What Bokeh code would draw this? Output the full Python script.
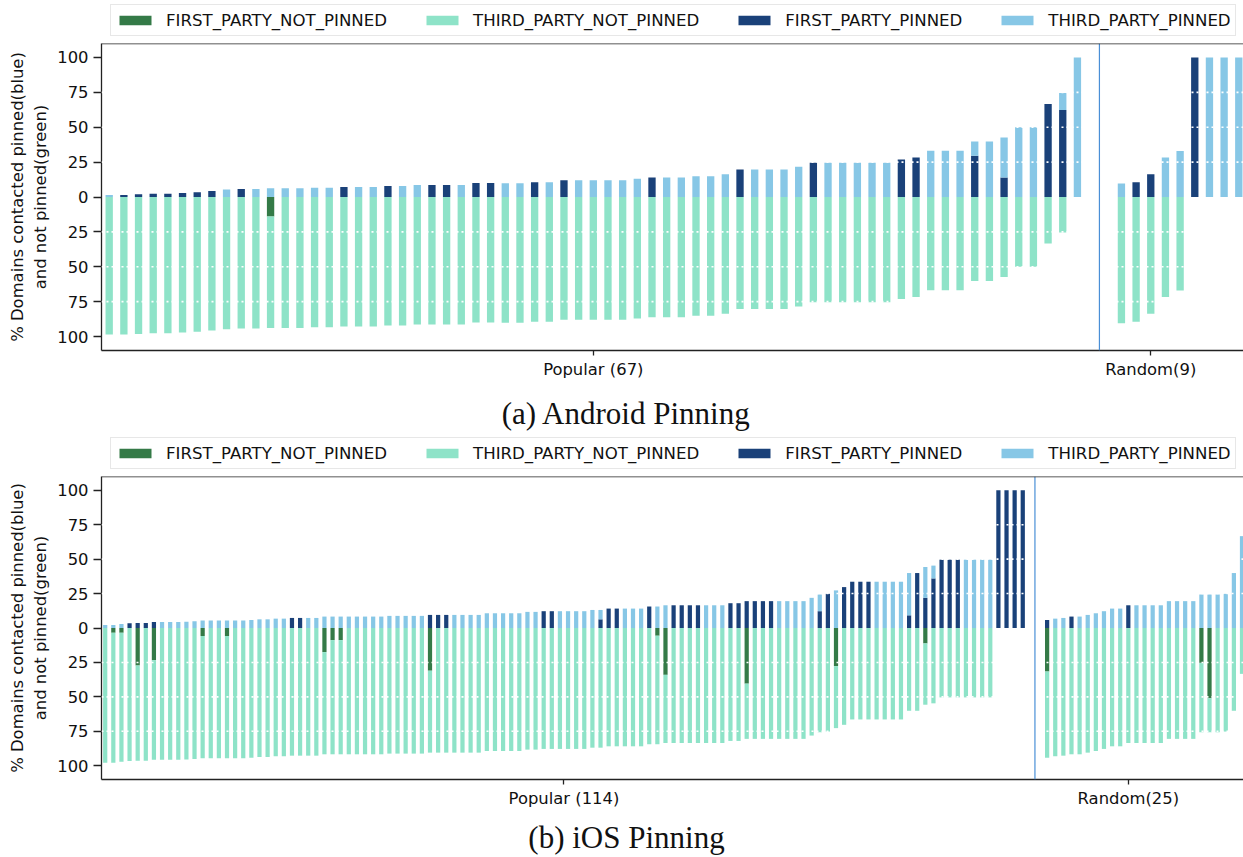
from bokeh.plotting import figure
from bokeh.models import (ColumnDataSource, Range1d, FixedTicker, Span, Legend,
                          LegendItem, CustomJSTickFormatter)
from bokeh.core.properties import value
from bokeh.layouts import column
from bokeh.embed import file_html
from bokeh.resources import INLINE

categories = ["FIRST_PARTY_NOT_PINNED", "THIRD_PARTY_NOT_PINNED",
              "FIRST_PARTY_PINNED", "THIRD_PARTY_PINNED"]
colors = ["#347a47", "#8ee3c8", "#1a4179", "#87c7e6"]

# ---------------- Android (values in % of contacted domains) ----------------
android_pop_fp_pinned = [
    0, 1.4, 1.9, 2.4, 2.4, 2.9, 3.4, 4.3, 0, 5.8,
    0, 0, 0, 0, 0, 0, 7.2, 0, 0, 7.9,
    0, 0, 8.6, 8.6, 0, 10.1, 10.1, 0, 0, 10.6,
    0, 12.0, 0, 0, 0, 0, 0, 13.9, 0, 0,
    0, 0, 0, 19.7, 0, 0, 0, 0, 24.5, 0,
    0, 0, 0, 0, 26.9, 28.3, 0, 0, 0, 29.5,
    0, 13.9, 0, 0, 66.7, 62.4, 0]
android_pop_tp_pinned = [
    1.4, 0, 0, 0, 0, 0, 0, 0, 5.3, 0,
    5.8, 6.2, 6.2, 6.2, 6.7, 6.7, 0, 7.2, 7.2, 0,
    7.9, 8.6, 0, 0, 8.6, 0, 0, 9.8, 9.8, 0,
    10.6, 0, 12.0, 12.0, 12.0, 12.0, 13.0, 0, 13.9, 13.9,
    14.9, 14.9, 16.3, 0, 19.7, 19.7, 19.7, 21.6, 0, 24.5,
    24.5, 24.5, 24.5, 24.5, 0, 0, 33.1, 33.1, 33.1, 10.3,
    39.8, 28.8, 50.0, 50.0, 0, 12.2, 100]
android_pop_fp_not = [
    0, 0, 0, 0, 0, 0, 0, 0, 0, 0,
    0, 14.0, 0, 0, 0, 0, 0, 0, 0, 0,
    0, 0, 0, 0, 0, 0, 0, 0, 0, 0,
    0, 0, 0, 0, 0, 0, 0, 0, 0, 0,
    0, 0, 0, 0, 0, 0, 0, 0, 0, 0,
    0, 0, 0, 0, 0, 0, 0, 0, 0, 0,
    0, 0, 0, 0, 0, 0, 0]
android_pop_tp_not = [
    98.6, 98.6, 98.1, 97.6, 97.6, 97.1, 96.6, 95.7, 94.7, 94.2,
    94.2, 79.8, 93.8, 93.8, 93.3, 93.3, 92.8, 92.8, 92.8, 92.1,
    92.1, 91.4, 91.4, 91.4, 91.4, 89.9, 89.9, 90.2, 90.2, 89.4,
    89.4, 88.0, 88.0, 88.0, 88.0, 88.0, 87.0, 86.1, 86.1, 86.1,
    85.1, 85.1, 83.7, 80.3, 80.3, 80.3, 80.3, 78.4, 75.5, 75.5,
    75.5, 75.5, 75.5, 75.5, 73.1, 71.7, 66.9, 66.9, 66.9, 60.2,
    60.2, 57.3, 50.0, 50.0, 33.3, 25.4, 0]

android_rnd_fp_pinned = [0, 10.6, 16.3, 0, 0, 100, 0, 0, 0]
android_rnd_tp_pinned = [9.6, 0, 0, 28.3, 33.0, 0, 100, 100, 100]
android_rnd_fp_not = [0, 0, 0, 0, 0, 0, 0, 0, 0]
android_rnd_tp_not = [90.4, 89.4, 83.7, 71.7, 67.0, 0, 0, 0, 0]

# ---------------- iOS ----------------
ios_pop_fp_pinned = [
    0, 0, 0, 3.4, 3.6, 3.6, 4.4, 0, 0, 0,
    0, 0, 0, 0, 0, 0, 0, 0, 0, 0,
    0, 0, 0, 7.3, 7.3, 0, 0, 0, 0, 0,
    0, 0, 0, 0, 0, 0, 0, 0, 0, 0,
    9.5, 9.5, 9.5, 0, 0, 0, 0, 0, 0, 0,
    0, 0, 0, 0, 12.2, 12.2, 0, 0, 0, 0,
    0, 6.3, 14.1, 14.1, 0, 0, 0, 15.6, 0, 0,
    16.5, 16.5, 16.5, 16.5, 0, 0, 0, 18.0, 18.0, 19.5,
    19.5, 19.5, 19.5, 0, 0, 0, 0, 0, 12.2, 24.8,
    0, 29.7, 33.6, 33.6, 33.6, 0, 0, 0, 0, 9.2,
    39.9, 21.9, 36.0, 49.6, 49.6, 49.6, 0, 0, 0, 0,
    100, 100, 100, 100]
ios_pop_tp_pinned = [
    2.2, 2.2, 2.9, 0, 0, 0, 0, 4.4, 4.4, 4.4,
    4.6, 4.9, 5.4, 5.4, 5.4, 5.4, 5.4, 5.4, 5.8, 6.3,
    6.3, 6.8, 6.8, 0, 0, 7.3, 7.3, 8.3, 8.3, 8.3,
    8.3, 8.3, 8.3, 8.3, 8.3, 8.8, 8.8, 8.8, 8.8, 8.8,
    0, 0, 0, 9.5, 9.5, 9.5, 9.5, 10.7, 10.7, 10.7,
    10.7, 10.7, 11.7, 11.7, 0, 0, 12.2, 12.2, 12.2, 12.2,
    13.1, 6.8, 0, 0, 14.1, 14.1, 14.1, 0, 15.6, 16.5,
    0, 0, 0, 0, 16.5, 16.5, 16.5, 0, 0, 0,
    0, 0, 0, 19.5, 19.5, 19.5, 19.5, 21.9, 12.1, 0,
    27.3, 0, 0, 0, 0, 33.6, 33.6, 33.6, 33.6, 30.7,
    0, 22.4, 9.3, 0, 0, 0, 49.6, 49.6, 49.6, 49.6,
    0, 0, 0, 0]
ios_pop_fp_not = [
    0, 3.4, 3.4, 0, 27.2, 0, 23.4, 0, 0, 0,
    0, 0, 5.8, 0, 0, 5.8, 0, 0, 0, 0,
    0, 0, 0, 0, 0, 0, 0, 17.5, 8.8, 8.8,
    0, 0, 0, 0, 0, 0, 0, 0, 0, 0,
    31.0, 0, 0, 0, 0, 0, 0, 0, 0, 0,
    0, 0, 0, 0, 0, 0, 0, 0, 0, 0,
    0, 0, 0, 0, 0, 0, 0, 0, 5.6, 34.0,
    0, 0, 0, 0, 0, 0, 0, 0, 0, 40.4,
    0, 0, 0, 0, 0, 0, 0, 0, 0, 0,
    27.7, 0, 0, 0, 0, 0, 0, 0, 0, 0,
    0, 11.2, 0, 0, 0, 0, 0, 0, 0, 0,
    0, 0, 0, 0]
ios_pop_tp_not = [
    97.8, 94.4, 93.7, 96.6, 69.2, 96.4, 72.2, 95.6, 95.6, 95.6,
    95.4, 95.1, 88.8, 94.6, 94.6, 88.8, 94.6, 94.6, 94.2, 93.7,
    93.7, 93.2, 93.2, 92.7, 92.7, 92.7, 92.7, 74.2, 82.9, 82.9,
    91.7, 91.7, 91.7, 91.7, 91.7, 91.2, 91.2, 91.2, 91.2, 91.2,
    59.5, 90.5, 90.5, 90.5, 90.5, 90.5, 90.5, 89.3, 89.3, 89.3,
    89.3, 89.3, 88.3, 88.3, 87.8, 87.8, 87.8, 87.8, 87.8, 87.8,
    86.9, 86.9, 85.9, 85.9, 85.9, 85.9, 85.9, 84.4, 78.8, 49.5,
    83.5, 83.5, 83.5, 83.5, 83.5, 83.5, 83.5, 82.0, 82.0, 40.1,
    80.5, 80.5, 80.5, 80.5, 80.5, 80.5, 80.5, 78.1, 75.7, 75.2,
    45.0, 70.3, 66.4, 66.4, 66.4, 66.4, 66.4, 66.4, 66.4, 60.1,
    60.1, 44.5, 54.7, 50.4, 50.4, 50.4, 50.4, 50.4, 50.4, 50.4,
    0, 0, 0, 0]

ios_rnd_fp_pinned = [5.8, 0, 0, 8.3, 0, 0, 0, 0, 0, 0, 16.5, 0, 0, 0, 0,
                     0, 0, 0, 0, 0, 0, 0, 0, 0, 0]
ios_rnd_tp_pinned = [0, 6.8, 7.3, 0, 8.3, 9.5, 10.7, 12.2, 14.1, 14.1, 0, 16.5,
                     16.5, 16.5, 16.5, 19.5, 19.5, 19.5, 19.5, 24.3, 24.3, 24.3,
                     24.8, 39.9, 66.7]
ios_rnd_fp_not = [31.6, 0, 0, 0, 0, 0, 0, 0, 0, 0, 0, 0, 0, 0, 0,
                  0, 0, 0, 0, 25.3, 51.0, 0, 0, 0, 0]
ios_rnd_tp_not = [62.6, 93.2, 92.7, 91.7, 91.7, 90.5, 89.3, 87.8, 85.9, 85.9,
                  83.5, 83.5, 83.5, 83.5, 83.5, 80.5, 80.5, 80.5, 80.5, 50.4,
                  24.7, 75.7, 75.2, 60.1, 33.3]

android_tick_labels = ["Popular (67)", "Random(9)"]
ios_tick_labels = ["Popular (114)", "Random(25)"]
y_ticks = [-100, -75, -50, -25, 0, 25, 50, 75, 100]
captions = ["(a) Android Pinning", "(b) iOS Pinning"]

FONT = "DejaVu Sans"
FS = "16.4px"
AXC = "#222222"
TXT = "#111111"
W = 1243
LEFT = 101


def bare_fig(h, xr, yr):
    f = figure(width=W, height=h, x_range=xr, y_range=yr,
               output_backend="svg", toolbar_location=None, min_border=0,
               min_border_left=LEFT, min_border_right=0, min_border_top=0,
               min_border_bottom=0, x_axis_type=None, y_axis_type=None)
    f.outline_line_color = None
    return f


def legend_fig(h, box_left, box_bottom_gap):
    f = bare_fig(h, Range1d(0, 1), Range1d(0, 1))
    rends = []
    for col in colors:
        # legend swatches only: zero-height bars, nothing drawn in the frame
        rends.append(f.vbar(x=[0.5], bottom=[0.5], top=[0.5], width=0.1,
                            fill_color=col, line_color=None))
    items = [LegendItem(label=c, renderers=[r]) for c, r in zip(categories, rends)]
    leg = Legend(items=items, orientation="horizontal",
                 location=(box_left - LEFT, box_bottom_gap),
                 glyph_width=40, glyph_height=12, label_height=22,
                 label_standoff=11, spacing=35, padding=4, margin=0,
                 label_text_font=FONT, label_text_font_size="16.6px",
                 label_text_color=TXT,
                 border_line_color="#d0d0d0", border_line_width=1,
                 background_fill_color="white", background_fill_alpha=1)
    f.add_layout(leg)
    return f


def build(pop, rnd, tick_labels, x_start, px_unit, frame_h, border_bottom, bar_w):
    n_pop = len(pop[0])
    n_rnd = len(rnd[0])
    xs = list(range(n_pop)) + [n_pop + 2 + j for j in range(n_rnd)]
    fpP = pop[0] + rnd[0]
    tpP = pop[1] + rnd[1]
    fpN = pop[2] + rnd[2]
    tpN = pop[3] + rnd[3]

    frame_w = W - LEFT
    x_end = x_start + frame_w / px_unit
    p = figure(width=W, height=1 + frame_h + border_bottom,
               x_range=Range1d(x_start, x_end), y_range=Range1d(-110, 110),
               output_backend="svg", toolbar_location=None,
               min_border_left=LEFT, min_border_right=0, min_border_top=1,
               min_border_bottom=border_bottom)
    p.outline_line_color = None
    p.xgrid.visible = False
    p.ygrid.visible = False

    segs = {c: dict(x=[], bottom=[], top=[]) for c in categories}
    for i, x in enumerate(xs):
        parts = [
            ("FIRST_PARTY_PINNED", 0, fpP[i]),
            ("THIRD_PARTY_PINNED", fpP[i], fpP[i] + tpP[i]),
            ("FIRST_PARTY_NOT_PINNED", 0, -fpN[i]),
            ("THIRD_PARTY_NOT_PINNED", -fpN[i], -fpN[i] - tpN[i]),
        ]
        for c, b, t in parts:
            if abs(t - b) > 0:
                segs[c]["x"].append(x)
                segs[c]["bottom"].append(b)
                segs[c]["top"].append(t)
    for c, col in zip(categories, colors):
        p.vbar(x="x", bottom="bottom", top="top", width=bar_w,
               source=ColumnDataSource(segs[c]), fill_color=col, line_color=None)

    for v in [-75, -50, -25, 25, 50, 75]:
        p.add_layout(Span(location=v, dimension="width", line_color="white",
                          line_width=1.6, line_dash="2 3"))
    p.add_layout(Span(location=n_pop + 0.5, dimension="height",
                      line_color="#4a8fd6", line_width=1.2))
    p.add_layout(Span(location=110, dimension="width", line_color=AXC,
                      line_width=1.3))

    pos_pop = (n_pop - 1) / 2
    pos_rnd = n_pop + n_rnd / 2 - 0.5
    p.xaxis.ticker = FixedTicker(ticks=[pos_pop, pos_rnd])
    p.xaxis.formatter = CustomJSTickFormatter(
        args=dict(split=n_pop + 0.5, a=tick_labels[0], b=tick_labels[1]),
        code="return tick < split ? a : b;")
    p.yaxis.ticker = FixedTicker(ticks=y_ticks)
    p.yaxis.formatter = CustomJSTickFormatter(code="return Math.abs(tick).toFixed(0);")
    p.yaxis.axis_label = "% Domains contacted pinned(blue)\nand not pinned(green)"
    for ax in (p.xaxis[0], p.yaxis[0]):
        ax.axis_line_color = AXC
        ax.axis_line_width = 1.3
        ax.major_tick_line_color = AXC
        ax.major_tick_line_width = 1.3
        ax.major_tick_in = 0
        ax.minor_tick_line_color = None
        ax.major_label_text_font = FONT
        ax.major_label_text_font_size = FS
        ax.major_label_text_color = TXT
    p.xaxis.major_tick_out = 5
    p.xaxis.major_label_standoff = 4
    p.yaxis.major_tick_out = 8
    p.yaxis.major_label_standoff = 5
    p.yaxis.axis_label_text_font = FONT
    p.yaxis.axis_label_text_font_size = FS
    p.yaxis.axis_label_text_font_style = "normal"
    p.yaxis.axis_label_text_color = TXT
    p.yaxis.axis_label_standoff = 4
    return p


def caption_fig(text, h, center):
    c = bare_fig(h, Range1d(LEFT, W), Range1d(h, 0))
    c.text(x=[626], y=[center], text=[text], text_align="center",
           text_baseline="middle", text_font=value("Liberation Serif"),
           text_font_size=value("31px"), text_color=TXT)
    return c


la = legend_fig(42, 110, 6)
pa = build((android_pop_fp_pinned, android_pop_tp_pinned, android_pop_fp_not, android_pop_tp_not),
           (android_rnd_fp_pinned, android_rnd_tp_pinned, android_rnd_fp_not, android_rnd_tp_not),
           android_tick_labels, x_start=-0.525, px_unit=14.67, frame_h=307,
           border_bottom=35, bar_w=0.5)
ca = caption_fig(captions[0], 48, 28)
lb = legend_fig(42, 110, 6)
pb = build((ios_pop_fp_pinned, ios_pop_tp_pinned, ios_pop_fp_not, ios_pop_tp_not),
           (ios_rnd_fp_pinned, ios_rnd_tp_pinned, ios_rnd_fp_not, ios_rnd_tp_not),
           ios_tick_labels, x_start=-0.456, px_unit=8.12, frame_h=303,
           border_bottom=35, bar_w=0.52)
cb = caption_fig(captions[1], 43, 23)

layout = column(la, pa, ca, lb, pb, cb, spacing=0)
open("out.html", "w").write(file_html(layout, INLINE))
